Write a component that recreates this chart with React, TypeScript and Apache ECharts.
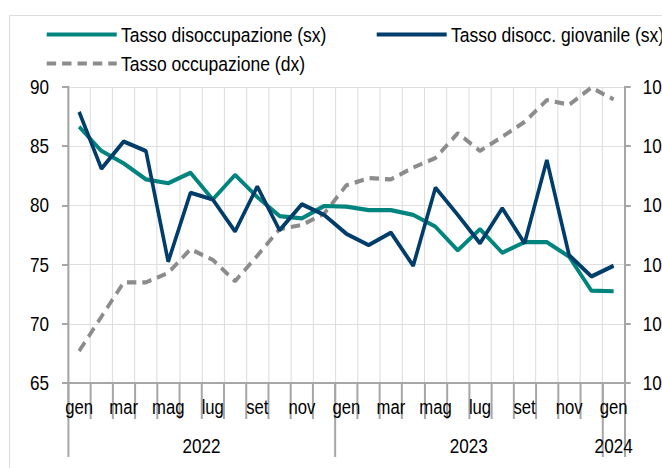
import React, { useEffect, useRef } from "react";
import * as echarts from "echarts";

const months = [
  "gen", "feb", "mar", "apr", "mag", "giu", "lug", "ago", "set", "ott", "nov", "dic",
  "gen", "feb", "mar", "apr", "mag", "giu", "lug", "ago", "set", "ott", "nov", "dic",
  "gen",
];
const yearLabels = ["2022", "2023", "2024"];
const yearStarts = [0, 12, 24];
const yearEnds = [12, 24, 25];

const disoccupazione = [
  86.65, 84.6, 83.55, 82.2, 81.87, 82.76, 80.5, 82.57, 80.7, 79.1, 78.9, 79.95,
  79.9, 79.6, 79.6, 79.2, 78.2, 76.2, 78.0, 76.0, 76.9, 76.9, 75.67, 72.8, 72.75,
];
const giovanile = [
  87.9, 83.1, 85.4, 84.6, 75.25, 81.07, 80.5, 77.8, 81.6, 77.9, 80.1, 79.2,
  77.6, 76.65, 77.7, 74.9, 81.5, 79.2, 76.8, 79.75, 76.8, 83.83, 75.8, 74.0, 74.9,
];
const occupazione = [
  100.54, 101.12, 101.7, 101.7, 101.86, 102.26, 102.08, 101.72, 102.15, 102.6, 102.67, 102.86,
  103.34, 103.46, 103.44, 103.64, 103.8, 104.22, 103.92, 104.16, 104.41, 104.78, 104.7, 104.99, 104.79,
];

const seriesNames = [
  "Tasso disoccupazione (sx)",
  "Tasso disocc. giovanile (sx)",
  "Tasso occupazione (dx)",
];

// horizontal squeeze of the whole drawing (the reference uses a narrow face)
const SX = 0.855;
const W = 662 / SX;
const H = 468;
const hx = (v: number) => v / SX;

const FONT = "'Liberation Sans', Arial, sans-serif";
const TEAL = "#00847e";
const NAVY = "#003d6b";
const GRAY = "#8c8c8c";
const AXIS = "#a6a6a6";
const GRID = "#dcdcdc";

export default function App() {
  const ref = useRef<HTMLDivElement>(null);
  useEffect(() => {
    if (!ref.current) return;
    const chart = echarts.init(ref.current, null, { renderer: "svg" });
    const yearCenters = yearStarts.map((s, i) => (s + yearEnds[i]) / 2);
    const separators = Array.from(new Set([...yearStarts, ...yearEnds]));
    const legendBase = {
      itemWidth: hx(70),
      itemHeight: 4,
      itemStyle: { opacity: 0 },
      lineStyle: { width: 4 },
      textStyle: { fontFamily: FONT, fontSize: 20.5, color: "#000" },
      padding: 0,
    };
    chart.setOption({
      animation: false,
      backgroundColor: "#fff",
      textStyle: { fontFamily: FONT },
      graphic: [
        {
          type: "rect",
          shape: { x: hx(9.5), y: 15.5, width: 2000, height: 1000 },
          style: { fill: "none", stroke: "#d9d9d9", lineWidth: 1 },
          silent: true,
          z: -10,
        },
      ],
      legend: [
        { ...legendBase, data: [seriesNames[0]], left: hx(45), top: 24 },
        { ...legendBase, data: [seriesNames[1]], left: hx(375), top: 24 },
        { ...legendBase, data: [seriesNames[2]], left: hx(45), top: 53 },
      ],
      grid: {
        left: hx(68),
        right: hx(37),
        top: 87,
        bottom: 85,
        containLabel: false,
        outerBoundsMode: "none",
      },
      xAxis: [
        {
          type: "category",
          data: months,
          boundaryGap: true,
          axisLine: { show: true, lineStyle: { color: AXIS, width: 2 } },
          axisTick: { show: true, interval: 0, length: 36, lineStyle: { color: AXIS, width: hx(2) } },
          axisLabel: {
            interval: 1,
            margin: 15,
            fontFamily: FONT,
            fontSize: 19.5,
            color: "#000",
          },
          splitLine: { show: true, interval: 0, lineStyle: { color: GRID, width: hx(1) } },
        },
        {
          type: "value",
          min: 0,
          max: months.length,
          position: "bottom",
          axisLine: { show: false },
          splitLine: { show: false },
          axisTick: {
            show: true,
            customValues: separators,
            length: 74,
            lineStyle: { color: AXIS, width: hx(2) },
          },
          axisLabel: {
            customValues: yearCenters,
            margin: 53,
            fontFamily: FONT,
            fontSize: 20,
            color: "#000",
            formatter: (v: number) => {
              const idx = yearCenters.indexOf(v);
              return idx >= 0 ? yearLabels[idx] : "";
            },
          },
        },
      ],
      yAxis: [
        {
          type: "value",
          min: 65,
          max: 90,
          interval: 5,
          position: "left",
          axisLine: { show: true, lineStyle: { color: AXIS, width: hx(2) } },
          axisTick: { show: true, length: hx(6), lineStyle: { color: AXIS, width: 2 } },
          axisLabel: { margin: hx(19), fontFamily: FONT, fontSize: 20, color: "#000" },
          splitLine: { show: true, lineStyle: { color: GRID, width: 1 } },
        },
        {
          type: "value",
          min: 100,
          max: 105,
          interval: 1,
          position: "right",
          axisLine: { show: true, lineStyle: { color: AXIS, width: hx(2) } },
          axisTick: { show: true, length: hx(6), lineStyle: { color: AXIS, width: 2 } },
          axisLabel: { margin: hx(18), fontFamily: FONT, fontSize: 20, color: "#000" },
          splitLine: { show: false },
        },
      ],
      series: [
        {
          name: seriesNames[0],
          type: "line",
          data: disoccupazione,
          yAxisIndex: 0,
          symbol: "none",
          lineStyle: { color: TEAL, width: 4.2 },
          itemStyle: { color: TEAL },
          z: 3,
        },
        {
          name: seriesNames[1],
          type: "line",
          data: giovanile,
          yAxisIndex: 0,
          symbol: "none",
          lineStyle: { color: NAVY, width: 4.2 },
          itemStyle: { color: NAVY },
          z: 4,
        },
        {
          name: seriesNames[2],
          type: "line",
          data: occupazione,
          yAxisIndex: 1,
          symbol: "none",
          lineStyle: { color: GRAY, width: 4.2, type: [11, 7] },
          itemStyle: { color: GRAY },
          z: 2,
        },
      ],
    });
    return () => chart.dispose();
  }, []);
  return (
    <div style={{ position: "fixed", left: 0, top: 0, width: 662, height: H, overflow: "hidden" }}>
      <div
        ref={ref}
        style={{
          width: W,
          height: H,
          transform: `scaleX(${SX})`,
          transformOrigin: "0 0",
        }}
      />
    </div>
  );
}
